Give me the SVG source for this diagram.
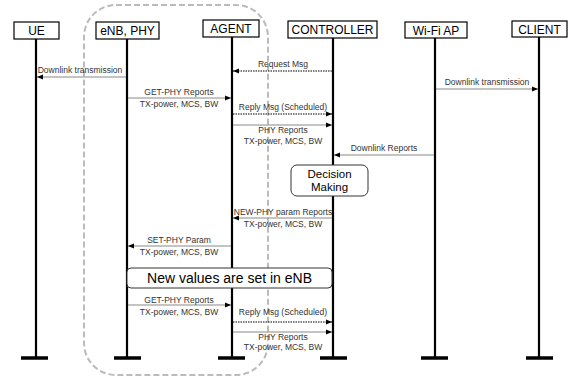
<svg xmlns="http://www.w3.org/2000/svg" width="570" height="379" viewBox="0 0 570 379">
<defs>
<marker id="ah" viewBox="0 0 6 6" refX="6" refY="3" markerWidth="6" markerHeight="6" markerUnits="userSpaceOnUse" orient="auto">
<path d="M0,0.5 L6,3 L0,5.5 Z" fill="#000"/>
</marker>
<style>
.hb{fill:#fff;stroke:#000;stroke-width:1.2}
.ht{font-family:"Liberation Sans",Arial,sans-serif;font-size:12px;fill:#000;text-anchor:middle}
.ll{stroke:#000;stroke-width:2.2}
.bar{stroke:#000;stroke-width:3.5}
.msg{stroke:#888;stroke-width:1;fill:none;marker-end:url(#ah)}
.dot{stroke:#000;stroke-width:1.2;stroke-dasharray:1.5 1;fill:none;marker-end:url(#ah)}
.lb{font-family:"Liberation Sans",Arial,sans-serif;font-size:8.5px;fill:#333;text-anchor:middle}
.bx{fill:#fff;stroke:#333;stroke-width:1}
.bt{font-family:"Liberation Sans",Arial,sans-serif;fill:#000;text-anchor:middle}
</style>
</defs>
<rect x="84" y="5" width="184" height="370" rx="32" fill="none" stroke="#bbb" stroke-width="2" stroke-dasharray="6 3"/>
<g id="UE"><rect class="hb" x="14" y="22" width="45" height="17"/><text class="ht" x="36.5" y="35">UE</text><line class="ll" x1="36" y1="39" x2="36" y2="358"/><line class="bar" x1="21" y1="358" x2="48" y2="358"/></g>
<g id="eNB"><rect class="hb" x="96" y="22" width="63" height="17"/><text class="ht" x="127.5" y="35">eNB, PHY</text><line class="ll" x1="127" y1="39" x2="127" y2="358"/><line class="bar" x1="114" y1="358" x2="141" y2="358"/></g>
<g id="AGENT"><rect class="hb" x="203" y="20" width="56" height="17"/><text class="ht" x="231" y="33">AGENT</text><line class="ll" x1="232" y1="37" x2="232" y2="358"/><line class="bar" x1="218" y1="358" x2="245" y2="358"/></g>
<g id="CONTROLLER"><rect class="hb" x="288" y="21" width="89" height="17"/><text class="ht" x="332.5" y="34">CONTROLLER</text><line class="ll" x1="333" y1="38" x2="333" y2="358"/><line class="bar" x1="320" y1="358" x2="347" y2="358"/></g>
<g id="WIFI"><rect class="hb" x="405" y="22" width="62" height="16"/><text class="ht" x="436" y="34.5">Wi-Fi AP</text><line class="ll" x1="435" y1="38" x2="435" y2="358"/><line class="bar" x1="421" y1="358" x2="448" y2="358"/></g>
<g id="CLIENT"><rect class="hb" x="512" y="21" width="55" height="16"/><text class="ht" x="539.5" y="33.5">CLIENT</text><line class="ll" x1="539" y1="37" x2="539" y2="358"/><line class="bar" x1="526" y1="358" x2="553" y2="358"/></g>
<g id="connectors">
<line class="dot" x1="332" y1="71" x2="233" y2="71"/>
<text class="lb" x="283" y="67">Request Msg</text>
<line class="msg" x1="126" y1="77" x2="37" y2="77"/>
<text class="lb" x="80" y="73">Downlink transmission</text>
<line class="msg" x1="436" y1="89" x2="538" y2="89"/>
<text class="lb" x="487" y="85">Downlink transmission</text>
<line class="msg" x1="128" y1="98" x2="231" y2="98"/>
<text class="lb" x="179" y="95">GET-PHY Reports</text>
<text class="lb" x="179" y="107">TX-power, MCS, BW</text>
<line class="dot" x1="233" y1="114" x2="332" y2="114"/>
<text class="lb" x="283" y="109.5">Reply Msg (Scheduled)</text>
<line class="msg" x1="233" y1="125" x2="332" y2="125"/>
<text class="lb" x="283" y="133">PHY Reports</text>
<text class="lb" x="283" y="144">TX-power, MCS, BW</text>
<line class="msg" x1="434" y1="155" x2="334" y2="155"/>
<text class="lb" x="384" y="151">Downlink Reports</text>
<line class="msg" x1="332" y1="218" x2="233" y2="218"/>
<text class="lb" x="283" y="215">NEW-PHY param Reports</text>
<text class="lb" x="283" y="227">TX-power, MCS, BW</text>
<line class="msg" x1="231" y1="246" x2="128" y2="246"/>
<text class="lb" x="179" y="243">SET-PHY Param</text>
<text class="lb" x="179" y="255">TX-power, MCS, BW</text>
<line class="msg" x1="128" y1="305" x2="231" y2="305"/>
<text class="lb" x="179" y="302.5">GET-PHY Reports</text>
<text class="lb" x="179" y="315">TX-power, MCS, BW</text>
<line class="dot" x1="233" y1="322" x2="332" y2="322"/>
<text class="lb" x="283" y="314.5">Reply Msg (Scheduled)</text>
<line class="msg" x1="233" y1="332" x2="332" y2="332"/>
<text class="lb" x="283" y="339.5">PHY Reports</text>
<text class="lb" x="283" y="350">TX-power, MCS, BW</text>
</g>
<g id="decision"><rect class="bx" x="291" y="165" width="77" height="31" rx="6"/><text class="bt" x="329.5" y="178" font-size="11.5">Decision</text><text class="bt" x="329.5" y="191" font-size="11.5">Making</text></g>
<g id="newvalues"><rect class="bx" x="127" y="268" width="205" height="20" rx="4"/><text class="bt" x="229.5" y="283" font-size="14">New values are set in eNB</text></g>
</svg>
